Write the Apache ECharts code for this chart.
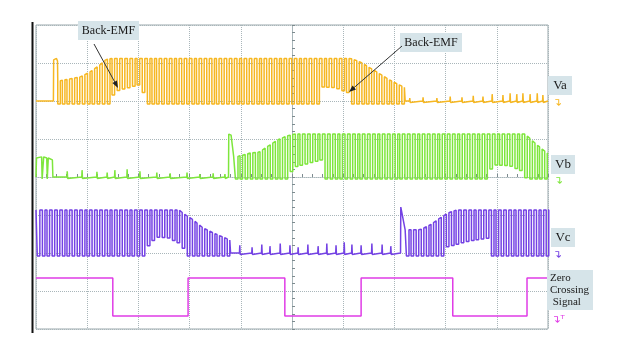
<!DOCTYPE html>
<html>
<head>
<meta charset="utf-8">
<script src="https://cdn.jsdelivr.net/npm/echarts/dist/echarts.min.js"></script>
<style>
  html, body { margin: 0; padding: 0; background: #fff; }
  #chart { width: 620px; height: 354px; }
</style>
</head>
<body>
<div id="chart"></div>
<script>
// scope screen in divisions: x -5..5, y -4..4
var channelNames = ['Va', 'Vb', 'Vc', 'Zero Crossing Signal'];
var channelColors = ['#f6b722', '#7ee63c', '#7442e4', '#e03ce6'];

// ---- Va ----
var vaHead = [[-5.0, 2.0], [-4.66, 2.0], [-4.655, 3.08], [-4.60, 3.12], [-4.58, 3.05]];
var vaDips = [-4.55, -4.46, -4.37, -4.27, -4.17, -4.07, -3.97, -3.88, -3.78, -3.68, -3.58, -3.49,
  -3.39, -3.29, -3.19, -3.09, -3.00, -2.90, -2.80, -2.71, -2.62, -2.52, -2.42, -2.32, -2.23, -2.13,
  -2.03, -1.93, -1.84, -1.74, -1.64, -1.54, -1.45, -1.35, -1.25, -1.15, -1.05, -0.96, -0.86, -0.76,
  -0.66, -0.57, -0.47, -0.37, -0.27, -0.18, -0.08, 0.02, 0.12, 0.21, 0.31, 0.41, 0.51, 0.61, 0.70,
  0.80, 0.90, 1.00, 1.09, 1.19, 1.29, 1.39, 1.48, 1.58, 1.68, 1.78, 1.88, 1.97, 2.07, 2.17];
var vaHigh = [[-4.55, 2.53], [-4.14, 2.63], [-3.95, 2.76], [-3.75, 2.95], [-3.63, 3.10], [-3.5, 3.12],
  [1.15, 3.12], [1.33, 3.03], [1.66, 2.76], [1.91, 2.55], [2.19, 2.36]];
var vaLow = [[-4.6, 1.92], [-3.52, 1.92], [-3.48, 2.24], [-2.93, 2.45], [-2.86, 1.92], [0.56, 1.92],
  [0.60, 2.37], [0.85, 2.35], [1.10, 2.22], [1.14, 1.92], [2.3, 1.92]];
var vaBase = 2.0;
var vaSpikes = [[2.30, 0.08], [2.56, 0.10], [2.83, 0.08], [3.09, 0.12], [3.32, 0.10], [3.54, 0.14],
  [3.73, 0.12], [3.91, 0.18], [4.12, 0.16], [4.26, 0.20], [4.39, 0.18], [4.51, 0.20], [4.65, 0.18],
  [4.79, 0.20], [4.90, 0.16]];

// ---- Vb ----
var vbHead = [[-5.0, 0.0], [-4.99, 0.50], [-4.89, 0.53], [-4.88, -0.05], [-4.86, -0.05], [-4.85, 0.53],
  [-4.79, 0.50], [-4.78, -0.05], [-4.77, -0.05], [-4.76, 0.50], [-4.68, 0.45], [-4.67, 0.0]];
var vbBase = 0.0;
var vbSpikes = [[-4.39, 0.15], [-4.10, 0.18], [-3.81, 0.14], [-3.61, 0.12], [-3.46, 0.18], [-3.22, 0.20],
  [-2.97, 0.15], [-2.64, 0.12], [-2.38, 0.10], [-2.05, 0.12], [-1.80, 0.08], [-1.54, 0.10], [-1.31, 0.08]];
var vbStep = [[-1.24, 0.0], [-1.235, 1.13], [-1.19, 1.10], [-1.14, 0.55]];
var vbDips = [-1.08, -0.99, -0.89, -0.79, -0.69, -0.60, -0.50, -0.40, -0.30, -0.21, -0.11, -0.01, 0.09,
  0.18, 0.28, 0.38, 0.48, 0.57, 0.67, 0.77, 0.87, 0.96, 1.06, 1.16, 1.26, 1.35, 1.45, 1.55, 1.65, 1.74,
  1.84, 1.94, 2.04, 2.13, 2.23, 2.33, 2.43, 2.52, 2.62, 2.72, 2.82, 2.91, 3.01, 3.11, 3.21, 3.30, 3.40,
  3.50, 3.60, 3.69, 3.79, 3.89, 3.99, 4.08, 4.18, 4.28, 4.38, 4.47, 4.57, 4.67, 4.77, 4.86, 4.96];
var vbHigh = [[-1.14, 0.55], [-1.09, 0.53], [-0.82, 0.63], [-0.63, 0.66], [-0.49, 0.79], [-0.29, 0.97],
  [-0.10, 1.08], [0.06, 1.13], [4.55, 1.13], [4.79, 0.84], [5.0, 0.61]];
var vbLow = [[-1.1, -0.05], [-0.03, -0.05], [0.0, 0.24], [0.57, 0.45], [0.63, -0.05], [3.80, -0.05],
  [3.84, 0.14], [3.97, 0.32], [4.25, 0.30], [4.52, 0.14], [4.58, -0.05], [5.0, -0.05]];

// ---- Vc ----
var vcDips1 = [-4.95, -4.85, -4.76, -4.66, -4.56, -4.46, -4.37, -4.27, -4.17, -4.07, -3.98, -3.88,
  -3.78, -3.68, -3.58, -3.49, -3.39, -3.29, -3.19, -3.10, -3.00, -2.90, -2.80, -2.71, -2.61, -2.51,
  -2.41, -2.31, -2.22, -2.12, -2.02, -1.92, -1.83, -1.73, -1.63, -1.53, -1.44, -1.34, -1.24];
var vcDips2 = [2.26, 2.35, 2.45, 2.55, 2.65, 2.74, 2.84, 2.94, 3.04, 3.14, 3.23, 3.33, 3.43, 3.53,
  3.62, 3.72, 3.82, 3.92, 4.01, 4.11, 4.21, 4.31, 4.40, 4.50, 4.60, 4.70, 4.80, 4.89, 4.99];
var vcHigh = [[-5, -0.87], [-2.2, -0.87], [-2.13, -0.95], [-1.93, -1.13], [-1.74, -1.34], [-1.54, -1.47],
  [-1.35, -1.58], [-1.21, -1.66], [2.21, -1.39], [2.50, -1.39], [2.70, -1.26], [2.89, -1.08],
  [3.09, -0.92], [3.22, -0.87], [5, -0.87]];
var vcLow = [[-5, -2.08], [-2.84, -2.08], [-2.79, -1.74], [-2.60, -1.58], [-2.40, -1.61], [-2.21, -1.74],
  [-2.13, -1.82], [-2.08, -2.08], [3.00, -2.08], [3.03, -1.84], [3.48, -1.68], [3.83, -1.61],
  [3.88, -2.08], [5, -2.08]];
var vcBase = -2.0;
var vcSpikes = [[-1.02, 0.20], [-0.78, 0.15], [-0.59, 0.22], [-0.43, 0.18], [-0.23, 0.25], [-0.04, 0.20],
  [0.12, 0.15], [0.31, 0.22], [0.51, 0.18], [0.68, 0.25], [0.86, 0.20], [1.02, 0.28], [1.17, 0.22],
  [1.35, 0.20], [1.56, 0.25], [1.76, 0.22], [1.93, 0.18]];
var vcStep = [[2.12, -2.0], [2.125, -0.79], [2.16, -0.82], [2.21, -1.39]];

// ---- zero crossing ----
var zcEdges = [-3.50, -2.03, -0.14, 1.35, 3.14, 4.59];
var zcHigh = -2.66, zcLow = -3.66;

var W = 0.025;
function env(e, x) {
  if (x <= e[0][0]) return e[0][1];
  for (var i = 1; i < e.length; i++) {
    if (x <= e[i][0]) {
      var a = e[i - 1], b = e[i];
      return a[1] + (b[1] - a[1]) * (x - a[0]) / (b[0] - a[0]);
    }
  }
  return e[e.length - 1][1];
}
function pulses(out, dips, hi, lo) {
  dips.forEach(function (t) {
    out.push([t - W, env(hi, t - W)]);
    out.push([t - W, env(lo, t)]);
    out.push([t + W, env(lo, t)]);
    out.push([t + W, env(hi, t + W)]);
  });
}
function spikes(out, list, base) {
  list.forEach(function (s) {
    out.push([s[0] - 0.006, base]);
    out.push([s[0], base + s[1]]);
    out.push([s[0] + 0.008, base - 0.04]);
    out.push([s[0] + 0.014, base]);
  });
}

var va = vaHead.slice();
pulses(va, vaDips, vaHigh, vaLow);
va.push([2.21, 2.36], [2.21, vaBase]);
spikes(va, vaSpikes, vaBase);
va.push([5.0, vaBase]);

var vb = vbHead.slice();
spikes(vb, vbSpikes, vbBase);
vb = vb.concat(vbStep);
pulses(vb, vbDips, vbHigh, vbLow);
vb.push([5.0, env(vbHigh, 5.0)]);

var vc = [[-5.0, -0.87]];
pulses(vc, vcDips1, vcHigh, vcLow);
vc.push([-1.20, -1.66], [-1.20, vcBase]);
spikes(vc, vcSpikes, vcBase);
vc = vc.concat(vcStep);
pulses(vc, vcDips2, vcHigh, vcLow);
vc.push([5.0, -0.87]);

var zc = [[-5.0, zcHigh]];
var lvl = zcHigh;
zcEdges.forEach(function (x) {
  zc.push([x, lvl]);
  lvl = (lvl === zcHigh) ? zcLow : zcHigh;
  zc.push([x, lvl]);
});
zc.push([5.0, lvl]);

var traces = [va, vb, vc, zc];

function arrow(x1, y1, x2, y2) {
  var dx = x2 - x1, dy = y2 - y1, len = Math.sqrt(dx * dx + dy * dy);
  var ux = dx / len, uy = dy / len, h = 7, s = 2.6;
  var bx = x2 - ux * h, by = y2 - uy * h;
  return [
    { type: 'line', z: 100, shape: { x1: x1, y1: y1, x2: bx, y2: by }, style: { stroke: '#333', lineWidth: 1 } },
    { type: 'polygon', z: 100, shape: { points: [[x2, y2], [bx - uy * s, by + ux * s], [bx + uy * s, by - ux * s]] }, style: { fill: '#222' } }
  ];
}
function box(x, y, w, h, lines, size, lh, align) {
  var els = [{ type: 'rect', z: 100, shape: { x: x, y: y, width: w, height: h }, style: { fill: '#d6e4e9' } }];
  lines.forEach(function (t, i) {
    els.push({
      type: 'text', z: 101,
      x: align === 'left' ? x + 3 : x + w / 2,
      y: y + h / 2 + (i - (lines.length - 1) / 2) * lh,
      style: { text: t, fill: '#1a1a1a', font: size + 'px "Liberation Serif", serif',
        textAlign: align === 'left' ? 'left' : 'center', textVerticalAlign: 'middle' }
    });
  });
  return els;
}
function mark(x, y, color, extra) {
  return [{ type: 'text', z: 101, x: x, y: y,
    style: { text: '↴' + (extra || ''), fill: color, font: '11px "DejaVu Sans"', textAlign: 'center', textVerticalAlign: 'middle' } }];
}

var graphics = [
  { type: 'line', z: 100, shape: { x1: 32.5, y1: 22, x2: 32.5, y2: 333 }, style: { stroke: '#111', lineWidth: 2 } }
];
graphics = graphics
  .concat(box(78, 21, 61, 19, ['Back-EMF'], 12, 13))
  .concat(arrow(94, 44, 118, 88))
  .concat(box(400, 33, 62, 19, ['Back-EMF'], 12, 13))
  .concat(arrow(402, 46, 349, 92))
  .concat(box(548, 76, 24, 19, [channelNames[0]], 13, 13))
  .concat(box(551, 155, 24, 19, [channelNames[1]], 13, 13))
  .concat(box(551, 228, 24, 19, [channelNames[2]], 13, 13))
  .concat(box(547, 270, 46, 40, ['Zero', 'Crossing', ' Signal'], 11, 12, 'left'))
  .concat(mark(557, 103, channelColors[0]))
  .concat(mark(558, 181, channelColors[1]))
  .concat(mark(557, 255, channelColors[2]))
  .concat(mark(558, 320, channelColors[3], 'ᵀ'));

var myChart = echarts.init(document.getElementById('chart'));
myChart.setOption({
  animation: false,
  backgroundColor: '#fff',
  grid: { left: 36, top: 25, width: 512, height: 304, show: true, borderColor: '#9aa8ac', borderWidth: 1 },
  xAxis: {
    type: 'value', min: -5, max: 5, interval: 1,
    axisLine: { show: true, onZero: true, lineStyle: { color: '#a9b6ba', type: 'dotted' } },
    axisTick: { show: true, inside: true, length: 3, lineStyle: { color: '#7d8b8f' } },
    minorTick: { show: true, splitNumber: 5, length: 3, lineStyle: { color: '#7d8b8f' } },
    axisLabel: { show: false },
    splitLine: { show: true, lineStyle: { color: '#a9b6ba', type: 'dotted' } }
  },
  yAxis: {
    type: 'value', min: -4, max: 4, interval: 1,
    axisLine: { show: true, onZero: true, lineStyle: { color: '#a9b6ba', type: 'dotted' } },
    axisTick: { show: true, inside: true, length: 3, lineStyle: { color: '#7d8b8f' } },
    minorTick: { show: true, splitNumber: 5, length: 3, lineStyle: { color: '#7d8b8f' } },
    axisLabel: { show: false },
    splitLine: { show: true, lineStyle: { color: '#a9b6ba', type: 'dotted' } }
  },
  series: traces.map(function (d, i) {
    return {
      name: channelNames[i],
      type: 'line',
      data: d,
      showSymbol: false,
      symbol: 'none',
      sampling: null,
      lineStyle: { color: channelColors[i], width: 1.5 },
      itemStyle: { color: channelColors[i] },
      z: 3
    };
  }),
  graphic: graphics
});
</script>
</body>
</html>
